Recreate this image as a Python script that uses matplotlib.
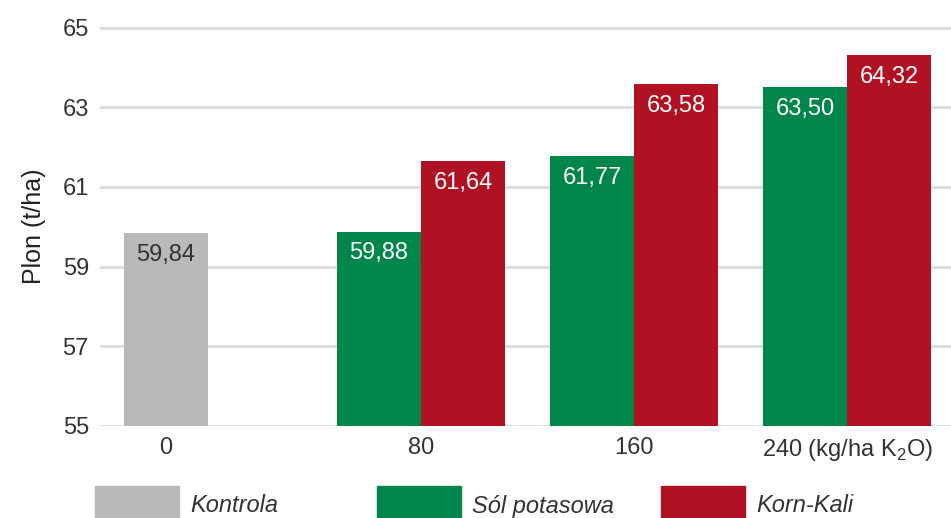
import matplotlib.pyplot as plt
import numpy as np

# dane z wykresu
groups = ["0", "80", "160", "240 (kg/ha K$_2$O)"]
kontrola = 59.84
sol_potasowa = [59.88, 61.77, 63.50]
korn_kali = [61.64, 63.58, 64.32]
y_ticks = [55, 57, 59, 61, 63, 65]
legend_labels = ["Kontrola", "Sól potasowa", "Korn-Kali"]

c_gray = "#b9b9b9"
c_green = "#00854a"
c_red = "#b01223"
txt = "#333333"

plt.rcParams["font.family"] = ["Liberation Sans", "DejaVu Sans"]
plt.rcParams["mathtext.fontset"] = "custom"
plt.rcParams["mathtext.rm"] = "Liberation Sans"

fig = plt.figure(figsize=(9.51, 5.18), dpi=100)
ax = fig.add_axes([100 / 951, 1 - 426 / 518, 851 / 951, 398 / 518 + 0.004])

w = 0.394
x = np.arange(len(groups))

ax.bar(x[0] - w / 2, kontrola - 55, bottom=55, width=w, color=c_gray, zorder=3)
ax.bar(x[1:] - w / 2, np.array(sol_potasowa) - 55, bottom=55, width=w, color=c_green, zorder=3)
ax.bar(x[1:] + w / 2, np.array(korn_kali) - 55, bottom=55, width=w, color=c_red, zorder=3)

def fmt(v):
    return f"{v:.2f}".replace(".", ",")

ax.text(x[0] - w / 2, kontrola - 0.55, fmt(kontrola), ha="center", va="center",
        fontsize=17, color=txt, zorder=4)
for i, v in enumerate(sol_potasowa):
    ax.text(x[i + 1] - w / 2, v - 0.55, fmt(v), ha="center", va="center",
            fontsize=17, color="white", zorder=4)
for i, v in enumerate(korn_kali):
    ax.text(x[i + 1] + w / 2, v - 0.55, fmt(v), ha="center", va="center",
            fontsize=17, color="white", zorder=4)

ax.set_xlim(-0.507, 3.488)
ax.set_ylim(55, 65.04)
ax.set_yticks(y_ticks)
ax.set_yticklabels([str(t) for t in y_ticks])
tick_pos = [x[0] - w / 2] + list(x[1:])
ax.set_xticks(tick_pos)
ax.set_xticklabels(groups)
ax.tick_params(length=0, labelsize=17, colors=txt)
ax.tick_params(axis="y", pad=8)
ax.tick_params(axis="x", pad=8)
ax.yaxis.grid(True, color="#dcdcdc", linewidth=2, zorder=0)
for s in ax.spines.values():
    s.set_visible(False)

ax.set_ylabel("Plon (t/ha)", fontsize=18, color="#222222", labelpad=12)

# legenda
sw = [(95, c_gray), (377, c_green), (661, c_red)]
for (px, col), lab in zip(sw, legend_labels):
    fig.patches.append(plt.Rectangle((px / 951, 0), 84 / 951, 32 / 518,
                                     transform=fig.transFigure, color=col))
    fig.text((px + 95) / 951, 12 / 518, lab, fontsize=17, style="italic",
             color=txt, va="center", ha="left")

fig.savefig("out.png", dpi=100)
